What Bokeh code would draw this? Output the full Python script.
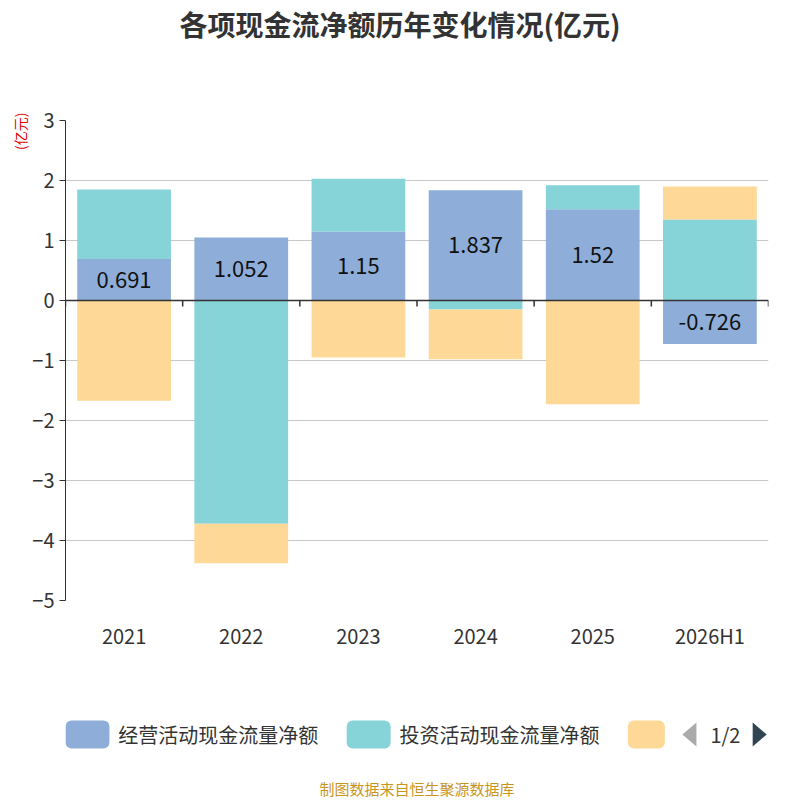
import numpy as np
from bokeh.plotting import figure
from bokeh.layouts import column
from bokeh.models import Range1d, FixedTicker, Span, Title, Div
from bokeh.core.properties import value
from bokeh.embed import file_html
from bokeh.resources import INLINE

categories = ["2021", "2022", "2023", "2024", "2025", "2026H1"]
operating = [0.691, 1.052, 1.15, 1.837, 1.52, -0.726]
investing = [1.16, -3.72, 0.88, -0.15, 0.40, 1.35]
financing = [-1.67, -0.66, -0.95, -0.83, -1.73, 0.55]
series_names = ["经营活动现金流量净额", "投资活动现金流量净额", "筹资活动现金流量净额"]
colors = ["#8eaed9", "#86d3d8", "#fed896"]
yticks = [-5, -4, -3, -2, -1, 0, 1, 2, 3]

FONT = "Noto Sans CJK SC"

title = Div(text="各项现金流净额历年变化情况(亿元)", width=800, height=60,
            styles={"font-family": FONT, "font-size": "28px", "font-weight": "bold",
                    "color": "#333333", "text-align": "center", "width": "800px",
                    "margin": "0", "padding-top": "4px"})

p = figure(width=800, height=600, x_range=Range1d(-0.5, 5.5), y_range=Range1d(-5, 3),
           output_backend="svg", toolbar_location=None,
           min_border_left=65, min_border_right=32, min_border_top=60, min_border_bottom=60)
p.outline_line_color = None
p.xgrid.grid_line_color = None
p.ygrid.grid_line_color = "#c8c8c8"
p.ygrid.ticker = FixedTicker(ticks=yticks)
p.yaxis.ticker = FixedTicker(ticks=yticks)
p.yaxis.axis_line_color = "#333333"
p.yaxis.major_tick_line_color = "#333333"
p.yaxis.major_tick_out = 6
p.yaxis.major_tick_in = 0
p.yaxis.minor_tick_line_color = None
p.yaxis.major_label_text_font_size = "20px"
p.yaxis.major_label_text_color = "#333333"
p.yaxis.major_label_text_font = FONT
p.xaxis.ticker = FixedTicker(ticks=list(range(len(categories))))
p.xaxis.major_label_overrides = {i: c for i, c in enumerate(categories)}
p.xaxis.axis_line_color = None
p.xaxis.major_tick_line_color = None
p.xaxis.minor_tick_line_color = None
p.xaxis.major_label_text_font_size = "20px"
p.xaxis.major_label_text_color = "#333333"
p.xaxis.major_label_text_font = FONT
p.xaxis.major_label_standoff = 14
p.add_layout(Title(text="(亿元)", align="right", text_font_size="14px", text_color="#e00000",
                   text_font=FONT, text_font_style="normal", standoff=0, offset=-8), "left")

x = np.arange(len(categories))
pos = np.zeros(len(categories))
neg = np.zeros(len(categories))
op_mid = []
for k, vals in enumerate([operating, investing, financing]):
    vals = np.array(vals)
    bottom = np.where(vals >= 0, pos, neg)
    top = bottom + vals
    p.vbar(x=x, bottom=bottom, top=top, width=0.8, fill_color=colors[k], line_color=None)
    if k == 0:
        op_mid = (bottom + top) / 2
    pos = np.where(vals >= 0, top, pos)
    neg = np.where(vals < 0, top, neg)

p.text(x=x, y=op_mid, text=[f"{v:g}" for v in operating], text_align="center",
       text_baseline="middle", text_font_size="22px", text_color="#111111",
       text_font=value(FONT))

p.add_layout(Span(location=0, dimension="width", line_color="#333333", line_width=1.5))
tx = np.arange(-0.5, 6.0, 1.0)
p.segment(x0=tx, x1=tx, y0=[0]*len(tx), y1=[-0.1]*len(tx), line_color="#333333", line_width=1.5)

q = figure(width=800, height=140, x_range=Range1d(0, 800), y_range=Range1d(800, 660),
           output_backend="svg", toolbar_location=None,
           x_axis_location=None, y_axis_location=None,
           min_border=0, min_border_left=0, min_border_right=0, min_border_top=0, min_border_bottom=0)
q.grid.visible = False
q.outline_line_color = None
q.rect(x=[25, 345, 661], y=[734]*3, width=[50, 50, 42], height=28, fill_color=colors,
       line_color=None, border_radius=6)
q.text(x=[60, 380], y=[734]*2, text=series_names[:2], text_baseline="middle",
       text_font_size="20px", text_color="#333333", text_font=value(FONT))
q.patch(x=[702, 718, 718], y=[734, 722, 746], fill_color="#aaaaaa", line_color=None)
q.patch(x=[782, 798, 782], y=[722, 734, 746], fill_color="#2f4554", line_color=None)
q.text(x=[751], y=[734], text=["1/2"], text_align="center", text_baseline="middle",
       text_font_size="20px", text_color="#333333", text_font=value(FONT))
q.text(x=[400], y=[788], text=["制图数据来自恒生聚源数据库"], text_align="center",
       text_baseline="middle", text_font_size="15px", text_color="#c8961e", text_font=value(FONT))

layout = column(title, p, q, spacing=0)
open("out.html", "w").write(file_html(layout, INLINE))
